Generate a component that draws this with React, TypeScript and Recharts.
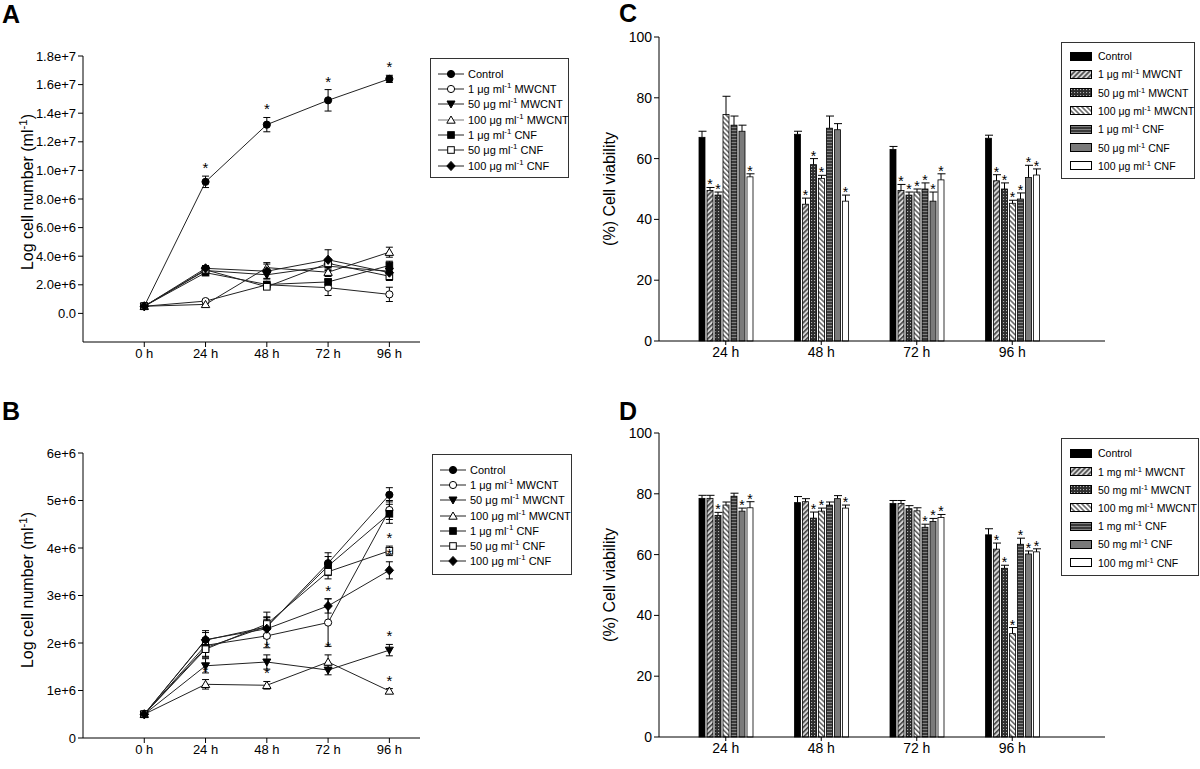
import React from "react";
import { LineChart, Line, BarChart, Bar, XAxis, YAxis, ErrorBar } from "recharts";

// ---- shared ----
const HOURS = [0, 24, 48, 72, 96];
const TIMES = ["24 h", "48 h", "72 h", "96 h"];
const KEYS = ["control", "mw1", "mw50", "mw100", "cnf1", "cnf50", "cnf100"];

// ---- panel A: cell number (ml-1), mean and sd ----
const aControl = [5e5, 9.2e6, 13.2e6, 14.9e6, 16.4e6];
const aControlSd = [5e4, 4e5, 5e5, 7.5e5, 2.5e5];
const aMw1 = [5e5, 8.6e5, 2.0e6, 1.8e6, 1.33e6];
const aMw1Sd = [5e4, 1e5, 1.5e5, 5.5e5, 5e5];
const aMw50 = [5e5, 3.0e6, 2.7e6, 3.3e6, 2.95e6];
const aMw50Sd = [5e4, 2e5, 3e5, 3e5, 3e5];
const aMw100 = [5e5, 6.3e5, 3.2e6, 2.88e6, 4.28e6];
const aMw100Sd = [5e4, 1e5, 3.5e5, 3e5, 3.5e5];
const aCnf1 = [5e5, 2.85e6, 2.02e6, 2.2e6, 3.35e6];
const aCnf1Sd = [5e4, 1.5e5, 1.5e5, 2e5, 3e5];
const aCnf50 = [5e5, 3.05e6, 1.86e6, 3.5e6, 2.6e6];
const aCnf50Sd = [5e4, 1.5e5, 1.5e5, 3e5, 3e5];
const aCnf100 = [5e5, 3.15e6, 2.95e6, 3.75e6, 2.85e6];
const aCnf100Sd = [5e4, 2e5, 5e5, 7e5, 3e5];
const aStars = {
  control: [false, true, true, true, true],
};
const aTicks = [0, 2e6, 4e6, 6e6, 8e6, 1e7, 1.2e7, 1.4e7, 1.6e7, 1.8e7];

// ---- panel B ----
const bControl = [5e5, 2.06e6, 2.34e6, 3.68e6, 5.12e6];
const bControlSd = [5e4, 2e5, 2e5, 2.2e5, 1.5e5];
const bMw1 = [5e5, 1.95e6, 2.15e6, 2.43e6, 4.8e6];
const bMw1Sd = [5e4, 1.5e5, 2.5e5, 5e5, 2e5];
const bMw50 = [5e5, 1.52e6, 1.6e6, 1.43e6, 1.85e6];
const bMw50Sd = [5e4, 1.5e5, 1.5e5, 1e5, 1.2e5];
const bMw100 = [5e5, 1.13e6, 1.11e6, 1.6e6, 9.9e5];
const bMw100Sd = [5e4, 1e5, 8e4, 1.5e5, 5e4];
const bCnf1 = [5e5, 1.9e6, 2.35e6, 3.62e6, 4.72e6];
const bCnf1Sd = [5e4, 2e5, 2e5, 2e5, 2e5];
const bCnf50 = [5e5, 1.87e6, 2.4e6, 3.5e6, 3.94e6];
const bCnf50Sd = [5e4, 1.5e5, 2.5e5, 1.5e5, 1e5];
const bCnf100 = [5e5, 2.07e6, 2.3e6, 2.78e6, 3.53e6];
const bCnf100Sd = [5e4, 1.5e5, 2e5, 1.5e5, 1.8e5];
const bStars = {
  mw1: [false, false, false, true, false],
  mw50: [false, false, true, false, true],
  mw100: [false, true, true, true, true],
  cnf50: [false, false, false, false, true],
  cnf100: [false, false, false, false, true],
};
const bTicks = [0, 1e6, 2e6, 3e6, 4e6, 5e6, 6e6];

// ---- panel C: % cell viability at 24/48/72/96 h ----
const cControl = [67, 68, 63, 66.7];
const cControlSd = [2, 1, 1, 1];
const cMw1 = [49.5, 45, 49.5, 52.7];
const cMw1Sd = [1, 2, 2, 2];
const cMw50 = [48, 58, 48, 50];
const cMw50Sd = [1, 2, 1, 2];
const cMw100 = [74.5, 53.5, 49, 45.3];
const cMw100Sd = [6, 1, 1, 1];
const cCnf1 = [71, 70, 50, 46.7];
const cCnf1Sd = [3, 4, 2, 2];
const cCnf50 = [69, 69.5, 46, 53.8];
const cCnf50Sd = [2, 2, 3, 4];
const cCnf100 = [54, 46, 53, 54.6];
const cCnf100Sd = [1, 2, 2, 2];
const cStars = [
  [false, false, false, false],
  [true, true, true, true],
  [true, true, true, true],
  [false, true, true, true],
  [false, false, true, true],
  [false, false, true, true],
  [true, true, true, true],
];

// ---- panel D ----
const dControl = [78.5, 77.1, 76.8, 66.5];
const dControlSd = [1, 2, 1, 2];
const dMw1 = [78.5, 77.4, 76.8, 61.8];
const dMw1Sd = [1, 1, 1, 2];
const dMw50 = [72.9, 72, 75.1, 55.5];
const dMw50Sd = [1, 2, 1, 1];
const dMw100 = [76.3, 74.3, 74.4, 34];
const dMw100Sd = [1, 1, 1, 2];
const dCnf1 = [79.2, 76.3, 69, 63.4];
const dCnf1Sd = [1, 1, 1, 2];
const dCnf50 = [74.3, 78.4, 70.9, 60.2];
const dCnf50Sd = [1, 1, 1, 1];
const dCnf100 = [75.4, 75.3, 72.2, 60.9];
const dCnf100Sd = [2, 1, 1, 1];
const dStars = [
  [false, false, false, false],
  [false, false, false, true],
  [true, true, false, true],
  [false, true, false, true],
  [false, false, true, true],
  [true, false, true, true],
  [true, true, true, true],
];
const pctTicks = [0, 20, 40, 60, 80, 100];

// ---- building tables ----
function lineRows(means: number[][], sds: number[][], stars: Record<string, boolean[]>) {
  return HOURS.map((h, i) => {
    const row: any = { h };
    KEYS.forEach((k, s) => {
      row[k] = means[s][i];
      row[k + "_sd"] = sds[s][i];
      const st = stars[k];
      row[k + "_star"] = st && st[i] ? means[s][i] + sds[s][i] : null;
    });
    return row;
  });
}

function barRows(means: number[][]) {
  return TIMES.map((t, i) => {
    const row: any = { t };
    KEYS.forEach((k, s) => (row[k] = means[s][i]));
    return row;
  });
}

const dataA = lineRows(
  [aControl, aMw1, aMw50, aMw100, aCnf1, aCnf50, aCnf100],
  [aControlSd, aMw1Sd, aMw50Sd, aMw100Sd, aCnf1Sd, aCnf50Sd, aCnf100Sd],
  aStars
);
const dataB = lineRows(
  [bControl, bMw1, bMw50, bMw100, bCnf1, bCnf50, bCnf100],
  [bControlSd, bMw1Sd, bMw50Sd, bMw100Sd, bCnf1Sd, bCnf50Sd, bCnf100Sd],
  bStars
);
const dataC = barRows([cControl, cMw1, cMw50, cMw100, cCnf1, cCnf50, cCnf100]);
const sdC = [cControlSd, cMw1Sd, cMw50Sd, cMw100Sd, cCnf1Sd, cCnf50Sd, cCnf100Sd];
const dataD = barRows([dControl, dMw1, dMw50, dMw100, dCnf1, dCnf50, dCnf100]);
const sdD = [dControlSd, dMw1Sd, dMw50Sd, dMw100Sd, dCnf1Sd, dCnf50Sd, dCnf100Sd];

const MARKERS = ["circleF", "circleO", "triDownF", "triUpO", "sqF", "sqO", "diamondF"];
const FILLS = [
  "#000",
  "url(#pMw1)",
  "url(#pMw50)",
  "url(#pMw100)",
  "url(#pCnf1)",
  "#7a7a7a",
  "#fff",
];

const FONT = "'Liberation Sans', Arial, Helvetica, sans-serif";

function Marker({ cx, cy, shape }: { cx: number; cy: number; shape: string }) {
  const st = { stroke: "#000", strokeWidth: 1 };
  switch (shape) {
    case "circleF":
      return <circle cx={cx} cy={cy} r={3.6} fill="#000" {...st} />;
    case "circleO":
      return <circle cx={cx} cy={cy} r={3.6} fill="#fff" {...st} />;
    case "triDownF":
      return <polygon points={`${cx - 4},${cy - 3} ${cx + 4},${cy - 3} ${cx},${cy + 4}`} fill="#000" {...st} />;
    case "triUpO":
      return <polygon points={`${cx - 4.2},${cy + 3.2} ${cx + 4.2},${cy + 3.2} ${cx},${cy - 4}`} fill="#fff" {...st} />;
    case "sqF":
      return <rect x={cx - 3.3} y={cy - 3.3} width={6.6} height={6.6} fill="#000" {...st} />;
    case "sqO":
      return <rect x={cx - 3.3} y={cy - 3.3} width={6.6} height={6.6} fill="#fff" {...st} />;
    default:
      return <polygon points={`${cx},${cy - 4.6} ${cx + 4.2},${cy} ${cx},${cy + 4.6} ${cx - 4.2},${cy}`} fill="#000" {...st} />;
  }
}

const makeDot = (shape: string) => (p: any) =>
  p.cy == null ? <g key={p.index} /> : <g key={p.index}><Marker cx={p.cx} cy={p.cy} shape={shape} /></g>;

const starDot = (p: any) =>
  p.cy == null || p.value == null ? (
    <g key={p.index} />
  ) : (
    <text key={p.index} x={p.cx} y={p.cy - 3} textAnchor="middle" fontSize={15} fill="#000">
      *
    </text>
  );

function makeBarShape(key: string, sds: number[], stars: boolean[], fill: string) {
  return (p: any) => {
    const { x, y, width, height, index, payload } = p;
    const v = payload[key];
    const k = v ? height / v : 0;
    const top = y - sds[index] * k;
    const cx = x + width / 2;
    return (
      <g>
        <rect x={x} y={y} width={width} height={height} fill={fill} stroke="#000" strokeWidth={0.8} />
        <line x1={cx} y1={y} x2={cx} y2={top} stroke="#000" strokeWidth={1} />
        <line x1={cx - 3.5} y1={top} x2={cx + 4.5} y2={top} stroke="#000" strokeWidth={1} />
        {stars[index] && (
          <text x={cx} y={top + 2} textAnchor="middle" fontSize={14} fill="#000">
            *
          </text>
        )}
      </g>
    );
  };
}

const axisProps = {
  axisLine: { stroke: "#000", strokeWidth: 1 },
  tickLine: { stroke: "#000", strokeWidth: 1 },
};

function GrowthChart({ data, domain, ticks, fmt, top, height, marginTop, marginBottom }: any) {
  return (
    <div style={{ position: "absolute", left: 0, top }}>
      <LineChart width={430} height={height} data={data} margin={{ top: marginTop, right: 10, bottom: marginBottom, left: 23 }}>
        <XAxis
          dataKey="h"
          type="number"
          domain={[-24, 108]}
          ticks={HOURS}
          tickFormatter={(v: number) => `${v} h`}
          height={30}
          tickSize={5}
          tick={{ fontSize: 13, fill: "#000" }}
          {...axisProps}
        />
        <YAxis
          type="number"
          domain={domain}
          ticks={ticks}
          tickFormatter={fmt}
          width={60}
          tickSize={5}
          tick={{ fontSize: 13, fill: "#000" }}
          allowDataOverflow
          {...axisProps}
        />
        {KEYS.map((k, i) => (
          <Line
            key={k}
            dataKey={k}
            stroke="#222"
            strokeWidth={1}
            dot={makeDot(MARKERS[i])}
            activeDot={false}
            isAnimationActive={false}
          >
            <ErrorBar dataKey={k + "_sd"} width={3.5} stroke="#000" strokeWidth={1} />
          </Line>
        ))}
        {KEYS.map((k) => (
          <Line
            key={k + "_star"}
            dataKey={k + "_star"}
            stroke="none"
            dot={starDot}
            activeDot={false}
            isAnimationActive={false}
          />
        ))}
      </LineChart>
    </div>
  );
}

function ViabilityChart({ data, sds, stars, top, height, marginTop, marginBottom }: any) {
  return (
    <div style={{ position: "absolute", left: 600, top }}>
      <BarChart
        width={520}
        height={height}
        data={data}
        margin={{ top: marginTop, right: 15, bottom: marginBottom, left: 19 }}
        barSize={6}
        barGap={2}
      >
        <XAxis
          dataKey="t"
          height={30}
          tickSize={4}
          padding={{ left: 19, right: 45 }}
          tick={{ fontSize: 14, fill: "#000" }}
          {...axisProps}
        />
        <YAxis
          domain={[0, 100]}
          ticks={pctTicks}
          width={40}
          tickSize={5}
          tick={{ fontSize: 14, fill: "#000" }}
          {...axisProps}
        />
        {KEYS.map((k, i) => (
          <Bar
            key={k}
            dataKey={k}
            fill={FILLS[i]}
            isAnimationActive={false}
            shape={makeBarShape(k, sds[i], stars[i], FILLS[i])}
          />
        ))}
      </BarChart>
    </div>
  );
}

function Conc({ n, u, kind }: { n: string; u: string; kind: string }) {
  return (
    <>
      {n} {u} ml<sup style={{ fontSize: "0.72em", lineHeight: 0 }}>-1</sup> {kind}
    </>
  );
}

const lineLabels = [
  <>Control</>,
  <Conc n="1" u="μg" kind="MWCNT" />,
  <Conc n="50" u="μg" kind="MWCNT" />,
  <Conc n="100" u="μg" kind="MWCNT" />,
  <Conc n="1" u="μg" kind="CNF" />,
  <Conc n="50" u="μg" kind="CNF" />,
  <Conc n="100" u="μg" kind="CNF" />,
];

function LineLegend({ left, top, width, height, firstRow, step, greyTri }: any) {
  return (
    <div
      style={{
        position: "absolute",
        left,
        top,
        width,
        height,
        border: "1px solid #333",
        boxSizing: "border-box",
        fontSize: 11,
      }}
    >
      {KEYS.map((k, i) => (
        <div
          key={k}
          style={{ position: "absolute", left: 7, top: firstRow + step * i - 7, height: 14, display: "flex", alignItems: "center", whiteSpace: "nowrap" }}
        >
          <svg width={26} height={12} style={{ display: "block" }}>
            <line x1={0} y1={6} x2={26} y2={6} stroke={i === 3 && greyTri ? "#777" : "#222"} strokeWidth={1} />
            <Marker cx={13} cy={6} shape={MARKERS[i]} />
          </svg>
          <span style={{ marginLeft: 4 }}>{lineLabels[i]}</span>
        </div>
      ))}
    </div>
  );
}

function BarLegend({ left, top, width, height, firstRow, step, u }: any) {
  const labels = [
    <>Control</>,
    <Conc n="1" u={u} kind="MWCNT" />,
    <Conc n="50" u={u} kind="MWCNT" />,
    <Conc n="100" u={u} kind="MWCNT" />,
    <Conc n="1" u={u} kind="CNF" />,
    <Conc n="50" u={u} kind="CNF" />,
    <Conc n="100" u={u} kind="CNF" />,
  ];
  return (
    <div
      style={{
        position: "absolute",
        left,
        top,
        width,
        height,
        border: "1px solid #333",
        boxSizing: "border-box",
        fontSize: 10.5,
      }}
    >
      {KEYS.map((k, i) => (
        <div
          key={k}
          style={{ position: "absolute", left: 8, top: firstRow + step * i - 8, height: 16, display: "flex", alignItems: "center", whiteSpace: "nowrap" }}
        >
          <svg width={22} height={9} style={{ display: "block" }}>
            <rect x={0.5} y={0.5} width={21} height={8} fill={FILLS[i]} stroke="#000" strokeWidth={1} />
          </svg>
          <span style={{ marginLeft: 6 }}>{labels[i]}</span>
        </div>
      ))}
    </div>
  );
}

function VLabel({ x, y, children }: any) {
  return (
    <div
      style={{
        position: "absolute",
        left: x,
        top: y,
        transform: "translate(-50%, -50%) rotate(-90deg)",
        fontSize: 16,
        whiteSpace: "nowrap",
      }}
    >
      {children}
    </div>
  );
}

function Letter({ x, y, children }: any) {
  return (
    <div style={{ position: "absolute", left: x, top: y, fontSize: 25, fontWeight: "bold", lineHeight: "25px" }}>
      {children}
    </div>
  );
}

export default function App() {
  const fmtA = (v: number) => (v === 0 ? "0.0" : v.toExponential(1));
  const fmtB = (v: number) => (v === 0 ? "0" : `${v / 1e6}e+6`);
  return (
    <div
      style={{
        position: "absolute",
        left: 0,
        top: 0,
        width: 1200,
        height: 769,
        background: "#fff",
        overflow: "hidden",
        fontFamily: FONT,
        color: "#000",
      }}
    >
      <svg width={0} height={0} style={{ position: "absolute" }}>
        <defs>
          <pattern id="pMw1" width={3.5} height={3.5} patternUnits="userSpaceOnUse" patternTransform="rotate(45)">
            <rect width={3.5} height={3.5} fill="#d4d4d4" />
            <line x1={0.8} y1={0} x2={0.8} y2={3.5} stroke="#333" strokeWidth={1.4} />
          </pattern>
          <pattern id="pMw50" width={3} height={3} patternUnits="userSpaceOnUse">
            <rect width={3} height={3} fill="#2e2e2e" />
            <rect x={1} y={1} width={1.1} height={1.1} fill="#b0b0b0" />
          </pattern>
          <pattern id="pMw100" width={3.5} height={3.5} patternUnits="userSpaceOnUse" patternTransform="rotate(-45)">
            <rect width={3.5} height={3.5} fill="#fff" />
            <line x1={0.8} y1={0} x2={0.8} y2={3.5} stroke="#444" strokeWidth={1.3} />
          </pattern>
          <pattern id="pCnf1" width={4} height={3} patternUnits="userSpaceOnUse">
            <rect width={4} height={3} fill="#3a3a3a" />
            <rect x={0} y={1} width={4} height={0.9} fill="#8a8a8a" />
          </pattern>
        </defs>
      </svg>

      <Letter x={2} y={2}>A</Letter>
      <Letter x={2} y={399}>B</Letter>
      <Letter x={619} y={1}>C</Letter>
      <Letter x={619} y={399}>D</Letter>

      <GrowthChart data={dataA} domain={[-2e6, 1.8e7]} ticks={aTicks} fmt={fmtA} top={0} height={380} marginTop={56} marginBottom={8} />
      <GrowthChart data={dataB} domain={[0, 6e6]} ticks={bTicks} fmt={fmtB} top={380} height={389} marginTop={73} marginBottom={1} />

      <VLabel x={28} y={192}>
        Log cell number (ml<sup style={{ fontSize: "0.72em", lineHeight: 0 }}>-1</sup>)
      </VLabel>
      <VLabel x={28} y={590}>
        Log cell number (ml<sup style={{ fontSize: "0.72em", lineHeight: 0 }}>-1</sup>)
      </VLabel>

      <LineLegend left={430} top={58} width={139} height={120} firstRow={14.7} step={15.3} greyTri />
      <LineLegend left={432} top={454} width={140} height={121} firstRow={15} step={15.2} />

      <ViabilityChart data={dataC} sds={sdC} stars={cStars} top={0} height={380} marginTop={37} marginBottom={9} />
      <ViabilityChart data={dataD} sds={sdD} stars={dStars} top={380} height={389} marginTop={53} marginBottom={2} />

      <VLabel x={610} y={189}>(%) Cell viability</VLabel>
      <VLabel x={610} y={585}>(%) Cell viability</VLabel>

      <BarLegend left={1061} top={42} width={134} height={137} firstRow={13} step={18.3} u="μg" />
      <BarLegend left={1061} top={438} width={138} height={138} firstRow={14.3} step={18.2} u="mg" />
    </div>
  );
}
